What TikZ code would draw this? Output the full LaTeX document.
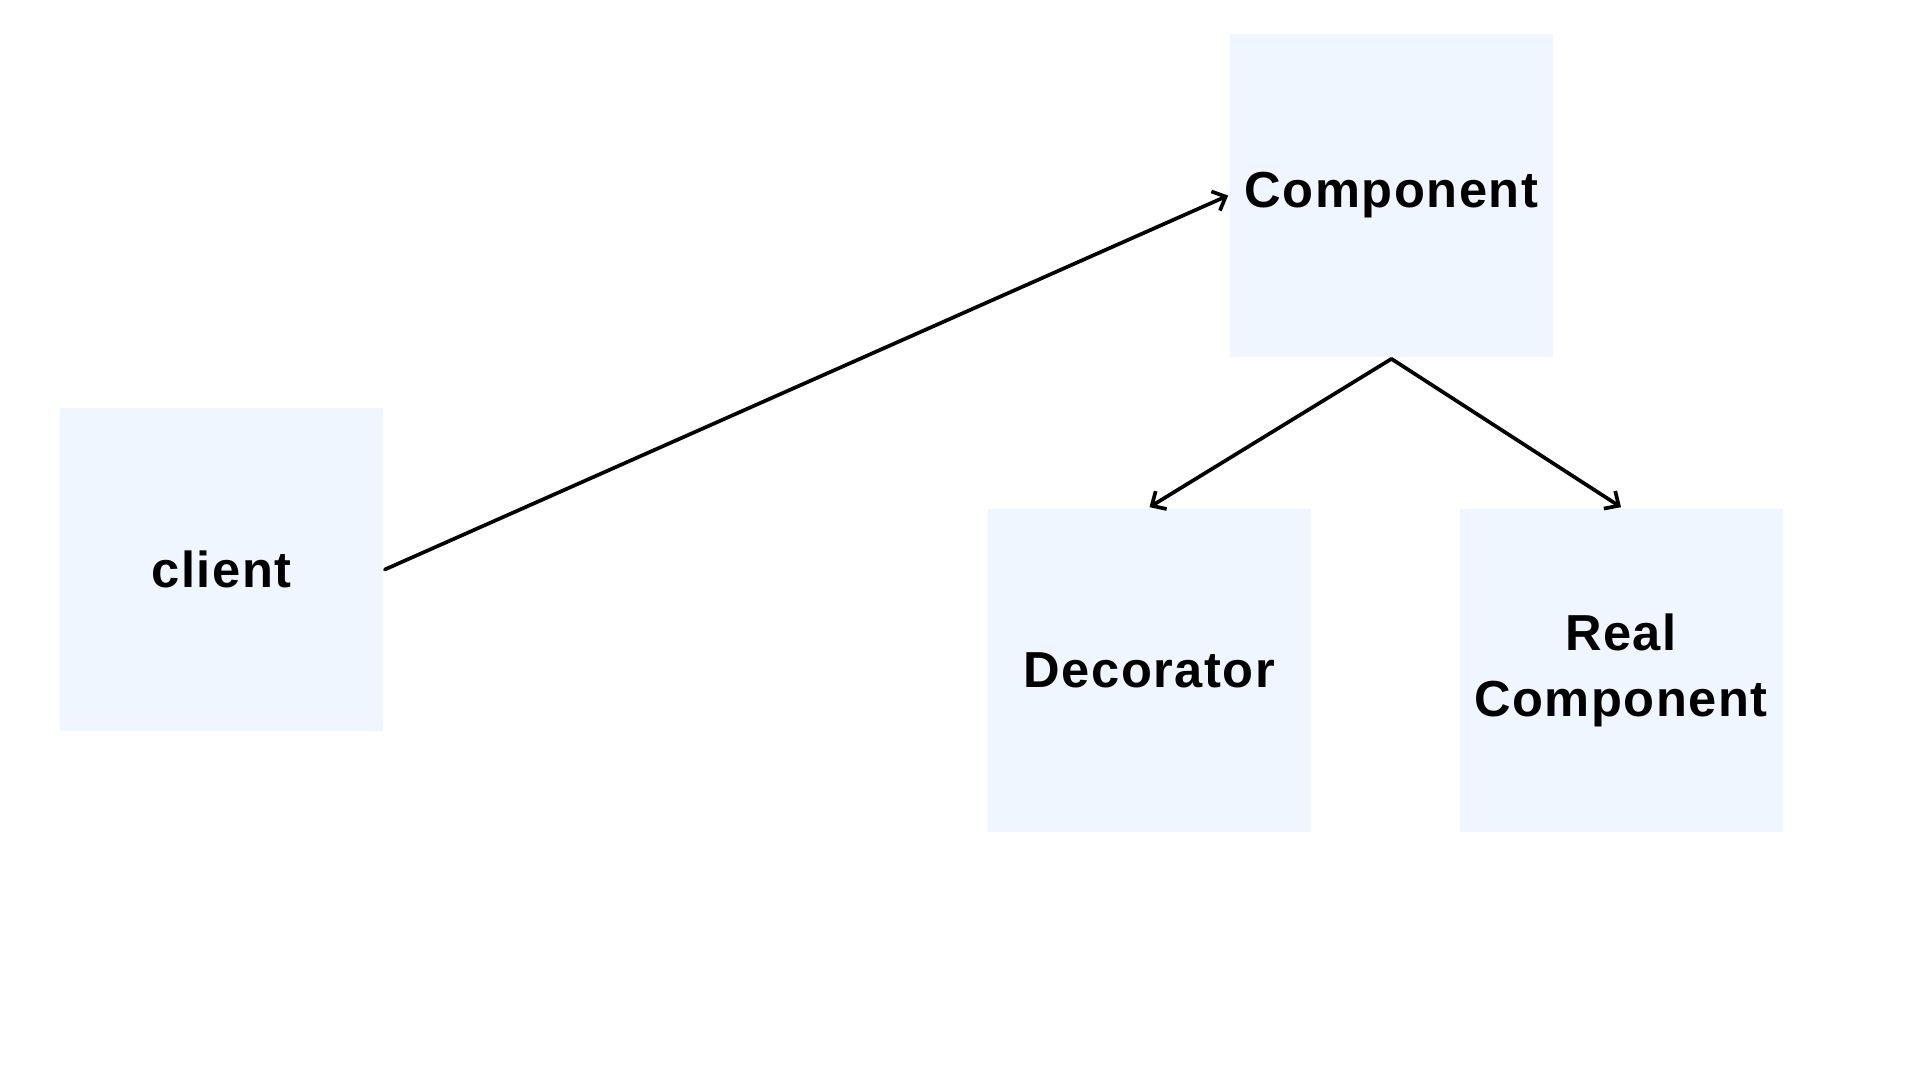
\documentclass[tikz,border=0pt]{standalone}
\usepackage{fontspec}
\usetikzlibrary{arrows.meta}
\newfontfamily\boxfont[LetterSpace=3.0]{Liberation Sans}
\definecolor{boxblue}{RGB}{239,246,255}
\def\boxsz{32.3mm}

\begin{document}
\begin{tikzpicture}[x=0.1mm,y=-0.1mm,line width=1.05pt,line cap=round,
  pattbox/.style={fill=boxblue,minimum width=\boxsz,minimum height=\boxsz,inner sep=0pt,
    align=center,font=\boxfont\bfseries\fontsize{14.4}{19}\selectfont},
  link/.style={-{Straight Barb[length=1.1mm,width=2.1mm]}}]
  \useasboundingbox (0,0) rectangle (1920,1080);
  \node[pattbox] (client) at (221.5,569.5) {client};
  \node[pattbox] (comp) at (1391.5,195.5) {Component};
  \node[pattbox] (deco) at (1149.5,670.5) {Decorator};
  \node[pattbox] (real) at (1621,670.5) {Real\\Component};
  \draw[link] (client.east) -- (comp.west);
  \foreach \t in {deco, real} { \draw[link] (comp.south) -- (\t.north); }
\end{tikzpicture}
\end{document}
